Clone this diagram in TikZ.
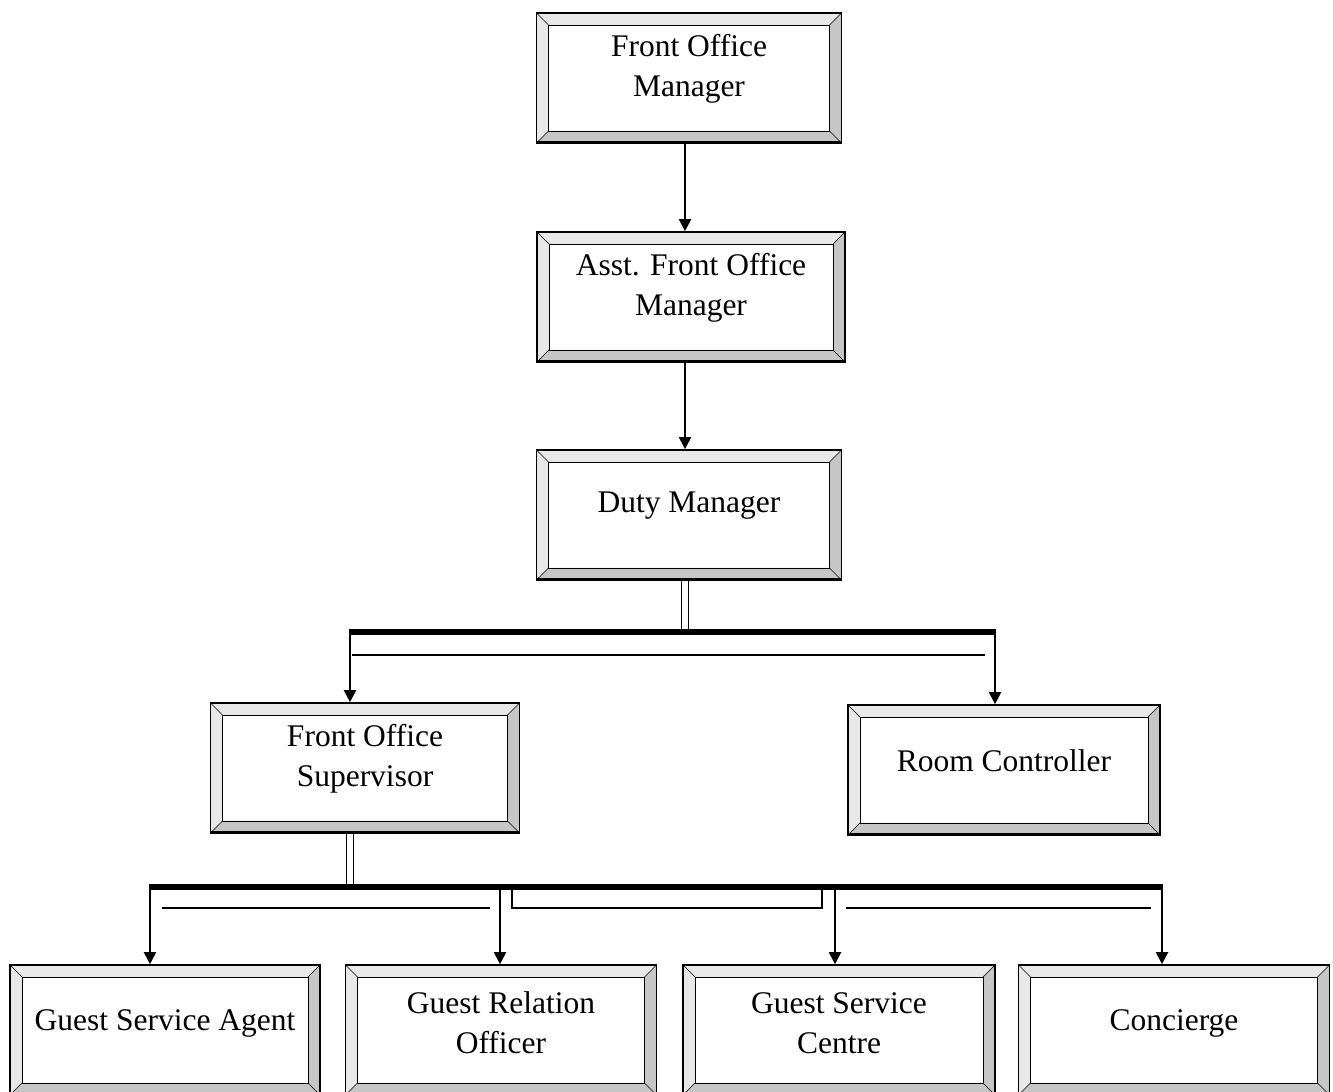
\documentclass[tikz,border=0pt]{standalone}
\usepackage{fontspec}
\setmainfont{Liberation Serif}
\usetikzlibrary{arrows.meta,calc}
\tikzset{
  x=1pt,y=1pt,
  bev/.style={draw, line width=1.6pt, fill=white, minimum width=#1, minimum height=130pt,
    inner sep=0pt,
    path picture={
      \fill[gray!18] (path picture bounding box.south west) -- ++(12,12) |- ($(path picture bounding box.north east)+(-12,-12)$) -- (path picture bounding box.north east) -| cycle;
      \fill[gray!45] (path picture bounding box.south west) -- ++(12,12) -| ($(path picture bounding box.north east)+(-12,-12)$) -- (path picture bounding box.north east) |- cycle;
      \draw[line width=0.9pt] ($(path picture bounding box.south west)+(12,12)$) rectangle ($(path picture bounding box.north east)+(-12,-12)$);
      \draw[line width=0.6pt] (path picture bounding box.south west) -- ++(12,12)
        (path picture bounding box.north west) -- ++(12,-12)
        (path picture bounding box.south east) -- ++(-12,12)
        (path picture bounding box.north east) -- ++(-12,-12);
      \draw[line width=4pt] (path picture bounding box.south west) -- (path picture bounding box.south east);
    }},
  bev/.default=306pt,
  lbl/.style={align=center, inner sep=0pt, font=\fontsize{31.5}{40}\selectfont, yshift=9pt},
  arr/.style={line width=2pt, -{Triangle[width=12pt,length=12pt]}},
  hollow/.style={line width=1.2pt, double distance=6pt},
  bus/.style={line width=6pt},
  shade/.style={line width=1.8pt},
}
\begin{document}
\begin{tikzpicture}
\useasboundingbox (0,0) rectangle (1333,1092);
\node[bev=305pt, label={[lbl]center:Front Office\\Manager}] (fom)  at (689,1014) {};
\node[bev=308pt, label={[lbl]center:Asst. Front Office\\Manager}] (afom) at (691,795) {};
\node[bev=305pt, label={[lbl]center:Duty Manager}] (dm) at (689,577) {};
\node[bev=309pt, label={[lbl]center:Front Office\\Supervisor}] (fos) at (365,324) {};
\node[bev=312pt, label={[lbl]center:Room Controller}] (rc) at (1004,322) {};
\node[bev=310pt, label={[lbl,yshift=-2pt]center:Guest Service Agent}] (gsa) at (165,62) {};
\node[bev=311pt, label={[lbl,yshift=-2pt]center:Guest Relation\\Officer}] (gro) at (501,62) {};
\node[bev=312pt, label={[lbl,yshift=-2pt]center:Guest Service\\Centre}] (gsc) at (839,62) {};
\node[bev=311pt, label={[lbl,yshift=-2pt]center:Concierge}] (con) at (1174,62) {};

% top chain
\draw[arr] ($(fom.south)+(-4,0)$) coordinate (c1) -- (c1 |- afom.north);
\draw[arr] ($(afom.south)+(-6,0)$) coordinate (c2) -- (c2 |- dm.north);

% first bus
\coordinate (b1) at (685,460);
\coordinate (b1l) at (350,460);
\coordinate (b1r) at (995,460);
\draw[hollow] ($(dm.south)+(-4,0)$) -- (b1);
\draw[shade] (352,437) -- (985,437);
\draw[bus] ($(b1l)+(-1,0)$) -- ($(b1r)+(1,0)$);
\draw[arr] (b1l) -- (b1l |- fos.north);
\draw[arr] (b1r) -- (b1r |- rc.north);

% second bus
\coordinate (b2) at (350,205);
\coordinate (b2a) at (150,205);
\coordinate (b2b) at (500,205);
\coordinate (b2c) at (835,205);
\coordinate (b2d) at (1162,205);
\draw[hollow] (fos.south -| b2) -- (b2);
\draw[shade] (162,184) -- (490,184);
\draw[shade] (512,205) -- (512,184) -- (822,184) -- (822,205);
\draw[shade] (846,184) -- (1151,184);
\draw[bus] ($(b2a)+(-1,0)$) -- ($(b2d)+(1,0)$);
\draw[arr] (b2a) -- (b2a |- gsa.north);
\draw[arr] (b2b) -- (b2b |- gro.north);
\draw[arr] (b2c) -- (b2c |- gsc.north);
\draw[arr] (b2d) -- (b2d |- con.north);
\end{tikzpicture}
\end{document}
